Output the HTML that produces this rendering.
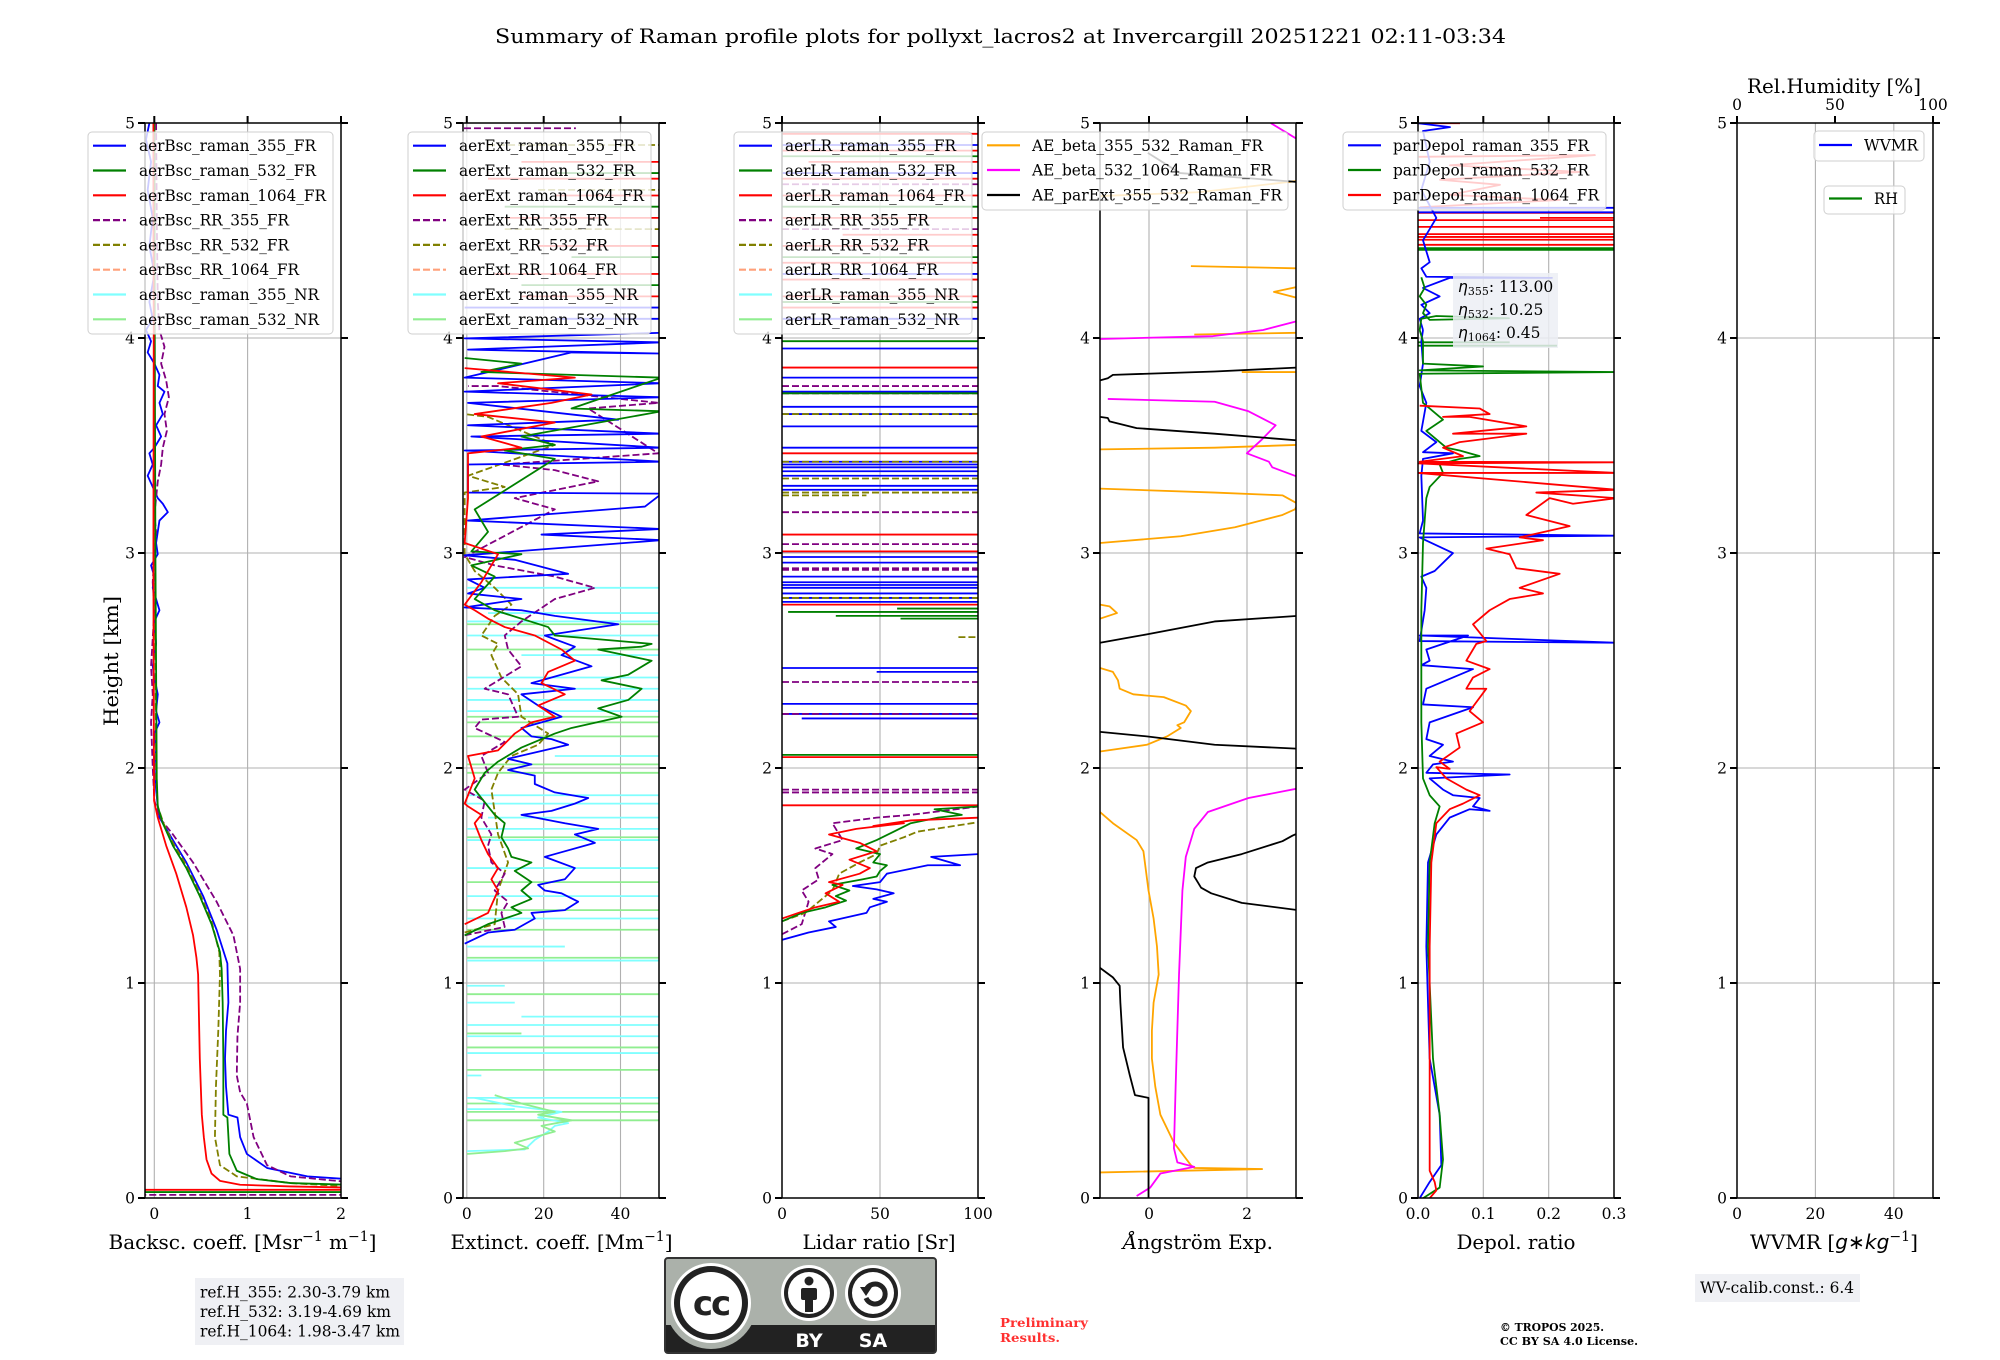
<!DOCTYPE html>
<html><head><meta charset="utf-8"><style>
html,body{margin:0;padding:0;background:#fff;}
svg{display:block;}
text{font-family:"DejaVu Serif","Liberation Serif",serif;fill:#000;}
.d{fill:none;stroke-width:1.8;vector-effect:non-scaling-stroke;stroke-linejoin:round;}
.ds{stroke-dasharray:7 3;}
.g{stroke:#b0b0b0;stroke-width:1.1;fill:none;}
.sp{fill:none;stroke:#000;stroke-width:1.5;}
.tk{stroke:#000;stroke-width:2;fill:none;}
.tl{font-size:15.5px;}
.lg{fill:#fff;fill-opacity:0.8;stroke:#cfcfcf;stroke-width:1;}
.lt{font-size:15.5px;}
.hl{stroke-width:2.2;fill:none;}
</style></head><body>
<svg width="2000" height="1360" viewBox="0 0 2000 1360" xmlns="http://www.w3.org/2000/svg">
<defs>
<clipPath id="c1"><rect x="145" y="123" width="196" height="1075"/></clipPath>
<clipPath id="c2"><rect x="463" y="123" width="196" height="1075"/></clipPath>
<clipPath id="c3"><rect x="782" y="123" width="196" height="1075"/></clipPath>
<clipPath id="c4"><rect x="1100" y="123" width="196" height="1075"/></clipPath>
<clipPath id="c5"><rect x="1418" y="123" width="196" height="1075"/></clipPath>
<clipPath id="cc"><rect x="665" y="1258" width="271" height="95" rx="3"/></clipPath>
</defs>

<!-- Title -->
<text x="1000.5" y="43" font-size="20" text-anchor="middle" textLength="1011" lengthAdjust="spacingAndGlyphs">Summary of Raman profile plots for pollyxt_lacros2 at Invercargill 20251221 02:11-03:34</text>

<!-- ============ GRIDS ============ -->
<g class="g">
<path d="M145 338H341M145 553H341M145 768H341M145 983H341M154.3 123V1198M247.6 123V1198"/>
<path d="M463 338H659M463 553H659M463 768H659M463 983H659M466.8 123V1198M543.7 123V1198M620.5 123V1198"/>
<path d="M782 338H978M782 553H978M782 768H978M782 983H978M880 123V1198"/>
<path d="M1100 338H1296M1100 553H1296M1100 768H1296M1100 983H1296M1149 123V1198M1247 123V1198"/>
<path d="M1418 338H1614M1418 553H1614M1418 768H1614M1418 983H1614M1483.3 123V1198M1548.7 123V1198"/>
<path d="M1737 338H1933M1737 553H1933M1737 768H1933M1737 983H1933M1815.4 123V1198M1893.8 123V1198"/>
</g>

<!-- ============ PANEL 1 DATA ============ -->
<g clip-path="url(#c1)"><g transform="translate(139.28,330) scale(0.3362,0.5605)">
<polyline class="d" stroke="#0000ff" points="30,-369 20,-340 35,-300 25,-250 40,-200 30,-150 45,-100 30,-50 40,-20 20,0 35,20 25,40 45,60 60,80 55,100 75,110 60,130 70,150 50,170 65,190 45,210 30,220 40,240 25,260 40,280 55,300 70,310 85,325 60,340 55,360 50,380 55,400 35,420 45,440 40,460 60,500 45,520 50,560 40,600 45,620 55,650 50,680 60,700 45,720 50,750 45,780 50,820 55,850 60,870 90,900 140,950 190,1010 230,1070 262,1130 265,1200 258,1250 255,1300 258,1350 265,1400 292,1405 300,1440 320,1470 380,1495 500,1510 620,1515"/>
<polyline class="d ds" stroke="#800080" points="50,-369 52,-200 55,-50 60,0 75,30 65,60 80,90 88,120 75,150 82,180 70,210 65,240 55,270 50,300 45,330 50,360 45,400 40,450 45,500 35,600 40,650 35,700 40,780 45,840 60,870 100,900 160,950 230,1020 280,1080 300,1140 300,1200 292,1260 290,1330 300,1360 320,1380 340,1440 380,1490 450,1510 620,1520"/>
<polyline class="d ds" stroke="#808000" points="44,-369 45,0 47,400 50,800 55,850 72,880 100,915 140,955 180,1005 215,1055 238,1110 240,1150 235,1250 228,1350 225,1440 240,1490 290,1510 450,1522 620,1528"/>
<polyline class="d" stroke="#008000" points="45,-369 46,0 48,400 50,600 52,800 55,850 70,880 100,920 140,960 180,1010 215,1060 240,1110 245,1140 248,1200 250,1300 250,1400 262,1405 268,1470 290,1500 350,1515 450,1522 620,1525"/>
<polyline class="d" stroke="#ff0000" points="42,-369 42,-200 43,0 42,400 43,700 44,840 55,870 80,920 110,970 140,1030 160,1080 170,1120 175,1150 180,1300 186,1400 192,1440 200,1480 215,1505 240,1518 300,1525 450,1528 620,1530"/>
<path class="d" stroke="#008000" d="M0 1538H620"/>
<path class="d" stroke="#ff0000" d="M0 1534H620"/>
<path class="d ds" stroke="#800080" d="M0 1543H620"/>
</g></g>

<!-- ============ PANEL 2 DATA ============ -->
<g clip-path="url(#c2)"><g transform="translate(454.65,330) scale(0.3339,0.5605)">
<path class="d" stroke="#80ffff" d="M37 460H612M100 505H612M37 520H612M37 545H612M200 580H612M37 620H612M37 640H612M37 660H612M37 680H612M300 760H612M37 830H612M37 845H612M100 870H612M37 890H612M37 910H612M37 960H612M37 1010H612M37 1050H612M37 1100H330M37 1125H612M37 1170H150M37 1200H180M200 1225H612M37 1240H612M37 1260H612M37 1290H612M37 1330H80M37 1370H612M37 1390H180"/>
<path class="d" stroke="#90ee90" d="M37 525H612M37 570H612M37 690H612M37 700H612M37 725H612M37 775H612M37 790H612M37 905H612M37 985H612M37 1035H612M37 1070H612M37 1120H612M37 1185H612M37 1255H200M37 1280H612M37 1320H612M37 1380H612M37 1395H612M37 1410H612"/>
<polyline class="d" stroke="#80ffff" points="37,1465 210,1462 240,1445 280,1430 300,1420 340,1415 250,1405 320,1395 180,1385 60,1370"/>
<polyline class="d" stroke="#90ee90" points="37,1470 150,1465 220,1460 180,1450 240,1440 300,1430 260,1420 350,1410 250,1400 300,1395 200,1380 120,1365"/>
<path class="d" stroke="#ff0000" d="M200 -300H612M100 -270H612M300 -240H612M150 -200H612M250 -150H612M120 -100H612M200 -60H612"/>
<path class="d" stroke="#008000" d="M300 -280H612M150 -220H612M350 -130H612M200 -80H612"/>
<path class="d ds" stroke="#808000" d="M100 -330H612M250 -250H612M150 -180H612"/>
<path class="d" stroke="#0000ff" d="M30 -40H612M300 -20H612"/>
<path class="d ds" stroke="#800080" d="M28 -360H363"/>
<polyline class="d ds" stroke="#808000" points="30,1075 120,1060 130,1000 160,950 130,900 120,860 110,820 130,790 170,760 250,740 280,720 200,690 190,650 140,620 110,580 130,560 80,545 120,510 170,490 120,460 60,430 30,400 30,290 150,280 40,260 300,205 100,155 30,150"/>
<polyline class="d ds" stroke="#800080" points="30,1080 150,1065 140,1040 160,1020 120,1000 150,970 110,950 100,920 110,900 80,870 90,840 30,820 100,790 80,760 150,735 60,710 80,695 190,690 160,650 90,640 200,600 160,570 150,545 200,520 300,480 420,460 300,440 120,420 30,405 300,320 180,300 430,270 300,250 140,240 610,220 400,140 610,130 130,100 40,100"/>
<polyline class="d" stroke="#0000ff" points="30,1095 100,1075 180,1070 240,1050 230,1040 330,1035 370,1020 320,1005 270,1000 250,990 330,980 360,960 270,940 300,935 420,915 360,900 430,890 330,880 200,865 290,858 360,845 400,835 300,825 240,810 240,795 160,785 230,775 160,765 340,740 290,730 230,725 200,710 320,690 250,670 200,650 360,640 230,630 410,600 320,580 360,565 270,545 490,525 300,510 200,500 30,495 200,480 40,470 90,460 40,445 340,435 180,410 30,402 620,375 260,365 620,355 40,340 570,315 620,292 40,290 40,240 620,235 30,215 620,210 50,190 620,185 40,170 490,160 40,130 620,120 30,110 620,95 30,85 350,40 620,42 40,35 620,22 30,15 620,5"/>
<polyline class="d" stroke="#008000" points="30,1080 100,1060 200,1040 170,1030 230,1015 200,1000 230,985 180,965 230,950 170,940 160,925 140,905 150,880 120,865 100,850 60,820 90,790 130,770 200,745 300,720 350,710 500,690 430,675 520,660 560,640 440,625 520,615 590,590 430,570 560,565 590,560 300,545 280,530 120,500 60,480 120,440 50,420 200,400 50,395 100,360 60,320 300,230 150,215 300,205 200,190 620,145 350,140 620,85 80,75 200,60 30,50"/>
<polyline class="d" stroke="#ff0000" points="30,1060 100,1040 130,1000 110,980 130,960 100,935 80,910 60,880 80,865 40,850 30,845 60,800 40,760 130,750 180,720 230,700 300,690 250,670 330,650 260,630 280,610 360,590 320,570 240,545 150,530 100,515 60,500 30,490 80,450 130,400 30,380 40,300 40,220 200,210 80,190 300,165 60,150 290,130 410,115 130,95 360,85 30,68"/>
</g></g>

<!-- ============ PANEL 3 DATA ============ -->
<g clip-path="url(#c3)"><g transform="translate(774.5,330) scale(0.3406,0.5605)">
<path class="d" stroke="#ff0000" d="M22 -350H600M22 -320H600M100 -300H600M22 -270H600M22 -240H600M22 -200H600M200 -170H600M22 -150H600M22 -120H600M22 -90H600M22 -60H600M22 -40H600"/>
<path class="d" stroke="#0000ff" d="M22 -330H600M22 -280H600M22 -100H600M22 -20H600"/>
<path class="d" stroke="#008000" d="M22 -310H600M22 -220H600M22 -130H600M22 -50H600"/>
<path class="d ds" stroke="#800080" d="M22 -260H600M22 -180H600"/>
<path class="d" stroke="#0000ff" d="M22 33H600M22 85H600M22 110H600M22 137H600M22 150H600M22 172H600M22 210H600M22 235H600M22 240H600M22 245H600M22 252H600M22 260H600M22 278H600M22 285H600M22 395H600M22 405H600M22 415H600M22 440H600M22 450H600M22 455H600M22 460H600M22 470H600M22 478H600M22 485H600M22 603H600M300 610H600M22 667H600M22 685H600M80 693H600"/>
<path class="d" stroke="#ff0000" d="M22 67H600M22 220H600M22 365H600M22 395H600M22 490H600M22 762H600M22 848H600"/>
<path class="d ds" stroke="#800080" d="M22 100H600M22 113H600M22 325H600M22 382H600M22 425H600M22 428H600M22 628H600M22 685H600M22 820H600M22 825H600"/>
<path class="d ds" stroke="#808000" d="M22 150H600M22 235H600M22 265H600M22 290H600M22 295H270M22 478H600M540 548H600"/>
<path class="d" stroke="#008000" d="M22 20H600M22 113H600M360 497H600M40 503H600M180 510H600M370 515H600M22 758H600"/>
<polyline class="d ds" stroke="#800080" points="22,1078 80,1060 90,1040 100,1020 80,1000 130,980 120,960 170,935 120,925 200,910 170,880 300,870 400,865 600,850"/>
<polyline class="d ds" stroke="#808000" points="22,1055 90,1040 130,1020 170,1000 190,970 250,950 300,935 310,920 380,905 420,895 600,878"/>
<polyline class="d" stroke="#0000ff" points="22,1088 100,1075 180,1065 160,1055 270,1040 280,1030 330,1020 290,1015 350,1005 300,998 230,992 310,985 330,970 450,955 545,955 460,940 600,935"/>
<polyline class="d" stroke="#008000" points="22,1055 80,1040 150,1030 210,1018 180,1010 220,1000 170,990 260,980 300,975 310,965 330,955 290,950 310,935 240,925 300,910 350,895 400,880 480,870 550,865 470,855 600,850"/>
<polyline class="d" stroke="#ff0000" points="22,1050 70,1040 120,1030 190,1020 150,1005 200,990 160,985 250,970 280,960 220,945 300,930 250,915 160,900 240,890 380,880 290,885 400,875 600,870"/>
</g></g>

<!-- ============ PANEL 4 DATA ============ -->
<g clip-path="url(#c4)"><g transform="translate(773.8,330) scale(0.3391,0.5605)">
<polyline class="d" stroke="#ffa500" points="962,1503 1440,1497 1240,1495 1230,1490 1180,1450 1140,1400 1125,1350 1115,1300 1115,1250 1120,1200 1135,1150 1130,1100 1120,1050 1105,1000 1090,930 1070,910 1000,880 962,860"/>
<polyline class="d" stroke="#ffa500" points="962,752 1100,740 1160,725 1200,710 1190,705 1210,700 1230,680 1215,670 1150,655 1060,650 1020,640 1015,625 1000,610 962,603"/>
<polyline class="d" stroke="#ffa500" points="962,515 1012,505 990,493 962,490"/>
<polyline class="d" stroke="#ffa500" points="962,380 1200,368 1360,352 1500,330 1537,320 1545,310 1500,295 1300,290 962,283"/>
<polyline class="d" stroke="#ffa500" points="962,213 1300,210 1545,205"/>
<polyline class="d" stroke="#ffa500" points="1380,75 1545,75"/>
<polyline class="d" stroke="#ffa500" points="1240,8 1545,5"/>
<polyline class="d" stroke="#ffa500" points="1230,-114 1545,-110"/>
<polyline class="d" stroke="#ffa500" points="1545,-77 1475,-68 1545,-57"/>
<polyline class="d" stroke="#ffa500" points="962,-239 1257,-246 1545,-266"/>
<polyline class="d" stroke="#ff00ff" points="1070,1545 1110,1530 1140,1505 1240,1493 1190,1485 1180,1460 1185,1350 1195,1150 1205,1000 1215,940 1240,890 1280,860 1400,835 1545,818"/>
<polyline class="d" stroke="#ff00ff" points="985,123 1300,128 1400,145 1480,170 1440,195 1395,220 1460,235 1470,245 1545,262"/>
<polyline class="d" stroke="#ff00ff" points="962,16 1295,11 1443,0 1545,-16"/>
<polyline class="d" stroke="#ff00ff" points="1466,-369 1545,-340"/>
<polyline class="d" stroke="#000" points="1105,1552 1105,1370 1065,1365 1050,1330 1030,1280 1022,1200 1020,1170 1000,1155 962,1138"/>
<polyline class="d" stroke="#000" points="1545,1035 1380,1022 1290,1005 1260,995 1250,985 1240,975 1245,960 1280,950 1380,935 1500,912 1530,902 1545,898"/>
<polyline class="d" stroke="#000" points="962,717 1100,725 1300,740 1545,747"/>
<polyline class="d" stroke="#000" points="962,558 1100,543 1300,520 1545,510"/>
<polyline class="d" stroke="#000" points="962,155 985,157 990,163 1070,175 1300,185 1545,197"/>
<polyline class="d" stroke="#000" points="962,90 985,86 1000,80 1300,74 1545,67"/>
<polyline class="d" stroke="#000" points="1103,-316 1198,-280 1396,-271 1545,-264"/>
</g></g>

<!-- ============ PANEL 5 DATA ============ -->
<g clip-path="url(#c5)"><g transform="translate(1409.67,330) scale(0.3333,0.5605)">
<polyline class="d" stroke="#ff0000" points="25,-309 556,-312 121,-294 511,-282 91,-268 271,-259 121,-241 451,-232 31,-219"/>
<path class="d" stroke="#ff0000" d="M25 -209H620M391 -200H620M25 -196H620M25 -184H620M25 -171H620M25 -166H620M25 -161H620M25 -152H620M25 -369H151"/>
<path class="d" stroke="#0000ff" d="M25 -218H620M25 -210H620"/>
<path class="d" stroke="#008000" d="M25 -146H620M25 -143H620M25 28H442M25 22H300"/>
<polyline class="d" stroke="#0000ff" points="25,-369 121,-362 40,-355 60,-300 35,-250 80,-200 40,-160 60,-121 35,-110 50,-95 427,-93 120,-93 40,-75 90,-60 35,-45 60,-30 30,-20 40,0"/>
<polyline class="d" stroke="#008000" points="35,-94 45,-75 30,-60 50,-45 40,-30 60,-18 298,-21 80,-25 35,-20 30,0"/>
<polyline class="d" stroke="#0000ff" points="30,1549 60,1520 95,1490 90,1400 60,1300 50,1100 55,950 80,900 120,870 180,855 240,858 190,850 210,835 130,830 100,820 60,800 300,793 50,790 70,775 130,770 60,760 100,740 50,730 60,700 190,673 40,668 50,640 190,605 35,598 60,590 50,570 175,545 30,545 620,558 30,555 45,500 50,460 35,440 75,430 130,398 30,370 620,367 30,363 40,340 35,260 40,230 130,220 40,218 80,200 35,180 50,130 30,100 40,60 35,20 40,0"/>
<polyline class="d" stroke="#008000" points="40,1549 90,1530 100,1480 90,1400 70,1300 55,1100 60,950 75,880 90,850 60,830 40,800 35,700 35,500 40,380 50,300 60,280 100,255 90,240 150,230 210,225 150,215 110,210 50,180 100,160 40,130 30,78 620,75 30,72 220,65 40,60 40,20 30,0"/>
<polyline class="d" stroke="#ff0000" points="60,1549 80,1535 75,1520 60,1500 60,1300 60,1100 65,950 80,880 120,855 160,845 210,830 170,820 110,800 80,780 120,783 90,770 150,745 140,720 220,700 180,680 230,640 170,640 190,620 240,605 170,590 200,560 230,555 190,525 240,500 300,480 400,470 330,460 450,435 320,425 300,400 230,390 400,375 330,370 480,350 350,330 420,300 490,310 620,300 380,290 620,285 25,255 620,255 25,238 620,236 30,235 160,225 100,210 150,200 350,185 130,185 350,172 180,155 100,155 240,150 210,140 30,135"/>
</g></g>

<!-- ============ SPINES & TICKS ============ -->
<g class="sp">
<rect x="145" y="123" width="196" height="1075"/>
<rect x="463" y="123" width="196" height="1075"/>
<rect x="782" y="123" width="196" height="1075"/>
<rect x="1100" y="123" width="196" height="1075"/>
<rect x="1418" y="123" width="196" height="1075"/>
<rect x="1737" y="123" width="196" height="1075"/>
</g>
<g class="tk">
<path d="M138 123H145M138 338H145M138 553H145M138 768H145M138 983H145M138 1198H145M341 123H348M341 338H348M341 553H348M341 768H348M341 983H348M341 1198H348M154.3 123V116M247.6 123V116M341 123V116"/>
<path d="M456 123H463M456 338H463M456 553H463M456 768H463M456 983H463M456 1198H463M659 123H666M659 338H666M659 553H666M659 768H666M659 983H666M659 1198H666M466.8 123V116M543.7 123V116M620.5 123V116"/>
<path d="M775 123H782M775 338H782M775 553H782M775 768H782M775 983H782M775 1198H782M978 123H985M978 338H985M978 553H985M978 768H985M978 983H985M978 1198H985M782 123V116M880 123V116M978 123V116"/>
<path d="M1093 123H1100M1093 338H1100M1093 553H1100M1093 768H1100M1093 983H1100M1093 1198H1100M1296 123H1303M1296 338H1303M1296 553H1303M1296 768H1303M1296 983H1303M1296 1198H1303M1149 123V116M1247 123V116"/>
<path d="M1411 123H1418M1411 338H1418M1411 553H1418M1411 768H1418M1411 983H1418M1411 1198H1418M1614 123H1621M1614 338H1621M1614 553H1621M1614 768H1621M1614 983H1621M1614 1198H1621M1418 123V116M1483.3 123V116M1548.7 123V116M1614 123V116"/>
<path d="M1730 123H1737M1730 338H1737M1730 553H1737M1730 768H1737M1730 983H1737M1730 1198H1737M1933 123H1940M1933 338H1940M1933 553H1940M1933 768H1940M1933 983H1940M1933 1198H1940M1737 123V116M1835 123V116M1933 123V116"/>
</g>

<!-- Y tick labels -->
<g class="tl" text-anchor="end">
<text x="135" y="128.5">5</text><text x="135" y="343.5">4</text><text x="135" y="558.5">3</text><text x="135" y="773.5">2</text><text x="135" y="988.5">1</text><text x="135" y="1203.5">0</text>
<text x="453" y="128.5">5</text><text x="453" y="343.5">4</text><text x="453" y="558.5">3</text><text x="453" y="773.5">2</text><text x="453" y="988.5">1</text><text x="453" y="1203.5">0</text>
<text x="772" y="128.5">5</text><text x="772" y="343.5">4</text><text x="772" y="558.5">3</text><text x="772" y="773.5">2</text><text x="772" y="988.5">1</text><text x="772" y="1203.5">0</text>
<text x="1090" y="128.5">5</text><text x="1090" y="343.5">4</text><text x="1090" y="558.5">3</text><text x="1090" y="773.5">2</text><text x="1090" y="988.5">1</text><text x="1090" y="1203.5">0</text>
<text x="1408" y="128.5">5</text><text x="1408" y="343.5">4</text><text x="1408" y="558.5">3</text><text x="1408" y="773.5">2</text><text x="1408" y="988.5">1</text><text x="1408" y="1203.5">0</text>
<text x="1727" y="128.5">5</text><text x="1727" y="343.5">4</text><text x="1727" y="558.5">3</text><text x="1727" y="773.5">2</text><text x="1727" y="988.5">1</text><text x="1727" y="1203.5">0</text>
</g>
<!-- X tick labels -->
<g class="tl" text-anchor="middle">
<text x="154.3" y="1219">0</text><text x="247.6" y="1219">1</text><text x="341" y="1219">2</text>
<text x="466.8" y="1219">0</text><text x="543.7" y="1219">20</text><text x="620.5" y="1219">40</text>
<text x="782" y="1219">0</text><text x="880" y="1219">50</text><text x="978" y="1219">100</text>
<text x="1149" y="1219">0</text><text x="1247" y="1219">2</text>
<text x="1418" y="1219">0.0</text><text x="1483.3" y="1219">0.1</text><text x="1548.7" y="1219">0.2</text><text x="1614" y="1219">0.3</text>
<text x="1737" y="1219">0</text><text x="1815.4" y="1219">20</text><text x="1893.8" y="1219">40</text>
<text x="1737" y="110">0</text><text x="1835" y="110">50</text><text x="1933" y="110">100</text>
</g>

<!-- Axis labels -->
<g font-size="20" text-anchor="middle">
<text x="242.5" y="1249" textLength="268" lengthAdjust="spacingAndGlyphs">Backsc. coeff. [Msr<tspan font-size="14" dy="-8">−1</tspan><tspan dy="8"> m</tspan><tspan font-size="14" dy="-8">−1</tspan><tspan dy="8">]</tspan></text>
<text x="561.5" y="1249" textLength="222" lengthAdjust="spacingAndGlyphs">Extinct. coeff. [Mm<tspan font-size="14" dy="-8">−1</tspan><tspan dy="8">]</tspan></text>
<text x="879" y="1249" textLength="153" lengthAdjust="spacingAndGlyphs">Lidar ratio [Sr]</text>
<text x="1198" y="1249" textLength="150" lengthAdjust="spacingAndGlyphs"><tspan font-style="italic">Å</tspan>ngström Exp.</text>
<text x="1516" y="1249" textLength="119" lengthAdjust="spacingAndGlyphs">Depol. ratio</text>
<text x="1834" y="1249" textLength="168" lengthAdjust="spacingAndGlyphs">WVMR [<tspan font-style="italic" font-family="DejaVu Sans, sans-serif">g∗kg</tspan><tspan font-size="14" dy="-8">−1</tspan><tspan dy="8">]</tspan></text>
<text x="1834" y="93" textLength="174" lengthAdjust="spacingAndGlyphs">Rel.Humidity [%]</text>
<text transform="translate(118,661) rotate(-90)" x="0" y="0" textLength="130" lengthAdjust="spacingAndGlyphs">Height [km]</text>
</g>

<!-- ============ LEGENDS ============ -->
<rect class="lg" x="88" y="132" width="245" height="202" rx="4"/>
<g class="hl">
<path stroke="#0000ff" d="M93 145.7H126"/><path stroke="#008000" d="M93 170.5H126"/><path stroke="#ff0000" d="M93 195.3H126"/>
<path stroke="#800080" stroke-dasharray="7 3" d="M93 220.1H126"/><path stroke="#808000" stroke-dasharray="7 3" d="M93 244.9H126"/><path stroke="#ffa07a" stroke-dasharray="7 3" d="M93 269.7H126"/>
<path stroke="#80ffff" d="M93 294.5H126"/><path stroke="#90ee90" d="M93 319.3H126"/>
</g>
<g class="lt">
<text x="139" y="151.2" textLength="177" lengthAdjust="spacingAndGlyphs">aerBsc_raman_355_FR</text>
<text x="139" y="176" textLength="177" lengthAdjust="spacingAndGlyphs">aerBsc_raman_532_FR</text>
<text x="139" y="200.8" textLength="187" lengthAdjust="spacingAndGlyphs">aerBsc_raman_1064_FR</text>
<text x="139" y="225.6" textLength="150" lengthAdjust="spacingAndGlyphs">aerBsc_RR_355_FR</text>
<text x="139" y="250.4" textLength="150" lengthAdjust="spacingAndGlyphs">aerBsc_RR_532_FR</text>
<text x="139" y="275.2" textLength="160" lengthAdjust="spacingAndGlyphs">aerBsc_RR_1064_FR</text>
<text x="139" y="300" textLength="180" lengthAdjust="spacingAndGlyphs">aerBsc_raman_355_NR</text>
<text x="139" y="324.8" textLength="180" lengthAdjust="spacingAndGlyphs">aerBsc_raman_532_NR</text>
</g>
<rect class="lg" x="408" y="132" width="243" height="202" rx="4"/>
<g class="hl">
<path stroke="#0000ff" d="M413 145.7H446"/><path stroke="#008000" d="M413 170.5H446"/><path stroke="#ff0000" d="M413 195.3H446"/>
<path stroke="#800080" stroke-dasharray="7 3" d="M413 220.1H446"/><path stroke="#808000" stroke-dasharray="7 3" d="M413 244.9H446"/><path stroke="#ffa07a" stroke-dasharray="7 3" d="M413 269.7H446"/>
<path stroke="#80ffff" d="M413 294.5H446"/><path stroke="#90ee90" d="M413 319.3H446"/>
</g>
<g class="lt">
<text x="459" y="151.2" textLength="176" lengthAdjust="spacingAndGlyphs">aerExt_raman_355_FR</text>
<text x="459" y="176" textLength="176" lengthAdjust="spacingAndGlyphs">aerExt_raman_532_FR</text>
<text x="459" y="200.8" textLength="185" lengthAdjust="spacingAndGlyphs">aerExt_raman_1064_FR</text>
<text x="459" y="225.6" textLength="149" lengthAdjust="spacingAndGlyphs">aerExt_RR_355_FR</text>
<text x="459" y="250.4" textLength="149" lengthAdjust="spacingAndGlyphs">aerExt_RR_532_FR</text>
<text x="459" y="275.2" textLength="158" lengthAdjust="spacingAndGlyphs">aerExt_RR_1064_FR</text>
<text x="459" y="300" textLength="179" lengthAdjust="spacingAndGlyphs">aerExt_raman_355_NR</text>
<text x="459" y="324.8" textLength="179" lengthAdjust="spacingAndGlyphs">aerExt_raman_532_NR</text>
</g>
<rect class="lg" x="734" y="132" width="238" height="202" rx="4"/>
<g class="hl">
<path stroke="#0000ff" d="M739 145.7H772"/><path stroke="#008000" d="M739 170.5H772"/><path stroke="#ff0000" d="M739 195.3H772"/>
<path stroke="#800080" stroke-dasharray="7 3" d="M739 220.1H772"/><path stroke="#808000" stroke-dasharray="7 3" d="M739 244.9H772"/><path stroke="#ffa07a" stroke-dasharray="7 3" d="M739 269.7H772"/>
<path stroke="#80ffff" d="M739 294.5H772"/><path stroke="#90ee90" d="M739 319.3H772"/>
</g>
<g class="lt">
<text x="785" y="151.2" textLength="171" lengthAdjust="spacingAndGlyphs">aerLR_raman_355_FR</text>
<text x="785" y="176" textLength="171" lengthAdjust="spacingAndGlyphs">aerLR_raman_532_FR</text>
<text x="785" y="200.8" textLength="180" lengthAdjust="spacingAndGlyphs">aerLR_raman_1064_FR</text>
<text x="785" y="225.6" textLength="144" lengthAdjust="spacingAndGlyphs">aerLR_RR_355_FR</text>
<text x="785" y="250.4" textLength="144" lengthAdjust="spacingAndGlyphs">aerLR_RR_532_FR</text>
<text x="785" y="275.2" textLength="153" lengthAdjust="spacingAndGlyphs">aerLR_RR_1064_FR</text>
<text x="785" y="300" textLength="174" lengthAdjust="spacingAndGlyphs">aerLR_raman_355_NR</text>
<text x="785" y="324.8" textLength="174" lengthAdjust="spacingAndGlyphs">aerLR_raman_532_NR</text>
</g>
<rect class="lg" x="982" y="132" width="306" height="78" rx="4"/>
<g class="hl">
<path stroke="#ffa500" d="M987 145.3H1020"/><path stroke="#ff00ff" d="M987 170H1020"/><path stroke="#000" d="M987 195H1020"/>
</g>
<g class="lt">
<text x="1032" y="150.8" textLength="231" lengthAdjust="spacingAndGlyphs">AE_beta_355_532_Raman_FR</text>
<text x="1032" y="175.5" textLength="240" lengthAdjust="spacingAndGlyphs">AE_beta_532_1064_Raman_FR</text>
<text x="1032" y="200.5" textLength="250" lengthAdjust="spacingAndGlyphs">AE_parExt_355_532_Raman_FR</text>
</g>
<rect class="lg" x="1343" y="132" width="263" height="78" rx="4"/>
<g class="hl">
<path stroke="#0000ff" d="M1348 145.3H1381"/><path stroke="#008000" d="M1348 170H1381"/><path stroke="#ff0000" d="M1348 195H1381"/>
</g>
<g class="lt">
<text x="1393" y="150.8" textLength="196" lengthAdjust="spacingAndGlyphs">parDepol_raman_355_FR</text>
<text x="1393" y="175.5" textLength="196" lengthAdjust="spacingAndGlyphs">parDepol_raman_532_FR</text>
<text x="1393" y="200.5" textLength="206" lengthAdjust="spacingAndGlyphs">parDepol_raman_1064_FR</text>
</g>
<rect x="1453" y="273" width="105" height="75" fill="#eceef4" fill-opacity="0.85"/>
<g class="lt">
<text x="1458" y="292"><tspan font-style="italic" font-family="DejaVu Sans, sans-serif">η</tspan><tspan font-size="11" dy="3">355</tspan><tspan dy="-3">: 113.00</tspan></text>
<text x="1458" y="315"><tspan font-style="italic" font-family="DejaVu Sans, sans-serif">η</tspan><tspan font-size="11" dy="3">532</tspan><tspan dy="-3">: 10.25</tspan></text>
<text x="1458" y="338"><tspan font-style="italic" font-family="DejaVu Sans, sans-serif">η</tspan><tspan font-size="11" dy="3">1064</tspan><tspan dy="-3">: 0.45</tspan></text>
</g>
<rect class="lg" x="1814" y="131" width="110" height="30" rx="4"/>
<path class="hl" stroke="#0000ff" d="M1819 145H1852"/>
<text class="lt" x="1864" y="150.5" textLength="54" lengthAdjust="spacingAndGlyphs">WVMR</text>
<rect class="lg" x="1824" y="186" width="81" height="28" rx="4"/>
<path class="hl" stroke="#008000" d="M1829 198.5H1862"/>
<text class="lt" x="1874" y="204" textLength="24" lengthAdjust="spacingAndGlyphs">RH</text>

<!-- ============ BOTTOM ANNOTATIONS ============ -->
<rect x="195" y="1278" width="209" height="67" fill="#eff0f4"/>
<g font-size="15.5">
<text x="200" y="1297.5" textLength="190" lengthAdjust="spacingAndGlyphs">ref.H_355: 2.30-3.79 km</text>
<text x="200" y="1317" textLength="191" lengthAdjust="spacingAndGlyphs">ref.H_532: 3.19-4.69 km</text>
<text x="200" y="1336.5" textLength="200" lengthAdjust="spacingAndGlyphs">ref.H_1064: 1.98-3.47 km</text>
</g>
<rect x="1695" y="1274" width="165" height="28" fill="#eff0f4"/>
<text x="1700" y="1293" font-size="15.5" textLength="154" lengthAdjust="spacingAndGlyphs">WV-calib.const.: 6.4</text>

<g font-size="12" font-weight="bold">
<text x="1000" y="1327" style="fill:#ff3030" textLength="88" lengthAdjust="spacingAndGlyphs">Preliminary</text>
<text x="1000" y="1342" style="fill:#ff3030" textLength="60" lengthAdjust="spacingAndGlyphs">Results.</text>
</g>
<g font-size="11" font-weight="bold">
<text x="1500" y="1331" textLength="104" lengthAdjust="spacingAndGlyphs">© TROPOS 2025.</text>
<text x="1500" y="1345" textLength="138" lengthAdjust="spacingAndGlyphs">CC BY SA 4.0 License.</text>
</g>

<!-- CC BY-SA logo -->
<g>
<rect x="665" y="1258" width="271" height="95" rx="3" fill="#abb1aa"/>
<g clip-path="url(#cc)">
<rect x="665" y="1325" width="271" height="28" fill="#222"/>
<circle cx="711" cy="1303" r="46" fill="#abb1aa"/>
</g>
<rect x="665" y="1258" width="271" height="95" rx="3" fill="none" stroke="#333" stroke-width="2"/>
<circle cx="711" cy="1303" r="40" fill="#fff"/>
<circle cx="711" cy="1303" r="37" fill="#222"/>
<circle cx="711" cy="1303" r="31" fill="#fff"/>
<text x="711" y="1315" font-family="DejaVu Sans, sans-serif" font-weight="bold" font-size="34" text-anchor="middle" style="fill:#222;font-family:'DejaVu Sans',sans-serif" letter-spacing="-2">cc</text>
<circle cx="809" cy="1293" r="28" fill="#fff"/>
<circle cx="809" cy="1293" r="25" fill="#222"/>
<circle cx="809" cy="1293" r="21" fill="#fff"/>
<circle cx="809" cy="1281" r="4.5" fill="#222"/>
<rect x="801" y="1288" width="16" height="12" rx="2" fill="#222"/>
<rect x="805" y="1298" width="8" height="14" fill="#222"/>
<circle cx="873" cy="1293" r="28" fill="#fff"/>
<circle cx="873" cy="1293" r="25" fill="#222"/>
<circle cx="873" cy="1293" r="21" fill="#fff"/>
<path d="M866 1290 A10 10 0 1 1 866 1298" fill="none" stroke="#222" stroke-width="5"/>
<polygon points="860,1287 872,1287 866,1296" fill="#222"/>
<text x="809" y="1347" font-weight="bold" font-size="19" text-anchor="middle" style="fill:#fff;font-family:'DejaVu Sans',sans-serif">BY</text>
<text x="873" y="1347" font-weight="bold" font-size="19" text-anchor="middle" style="fill:#fff;font-family:'DejaVu Sans',sans-serif">SA</text>
</g>
</svg>
</body></html>
